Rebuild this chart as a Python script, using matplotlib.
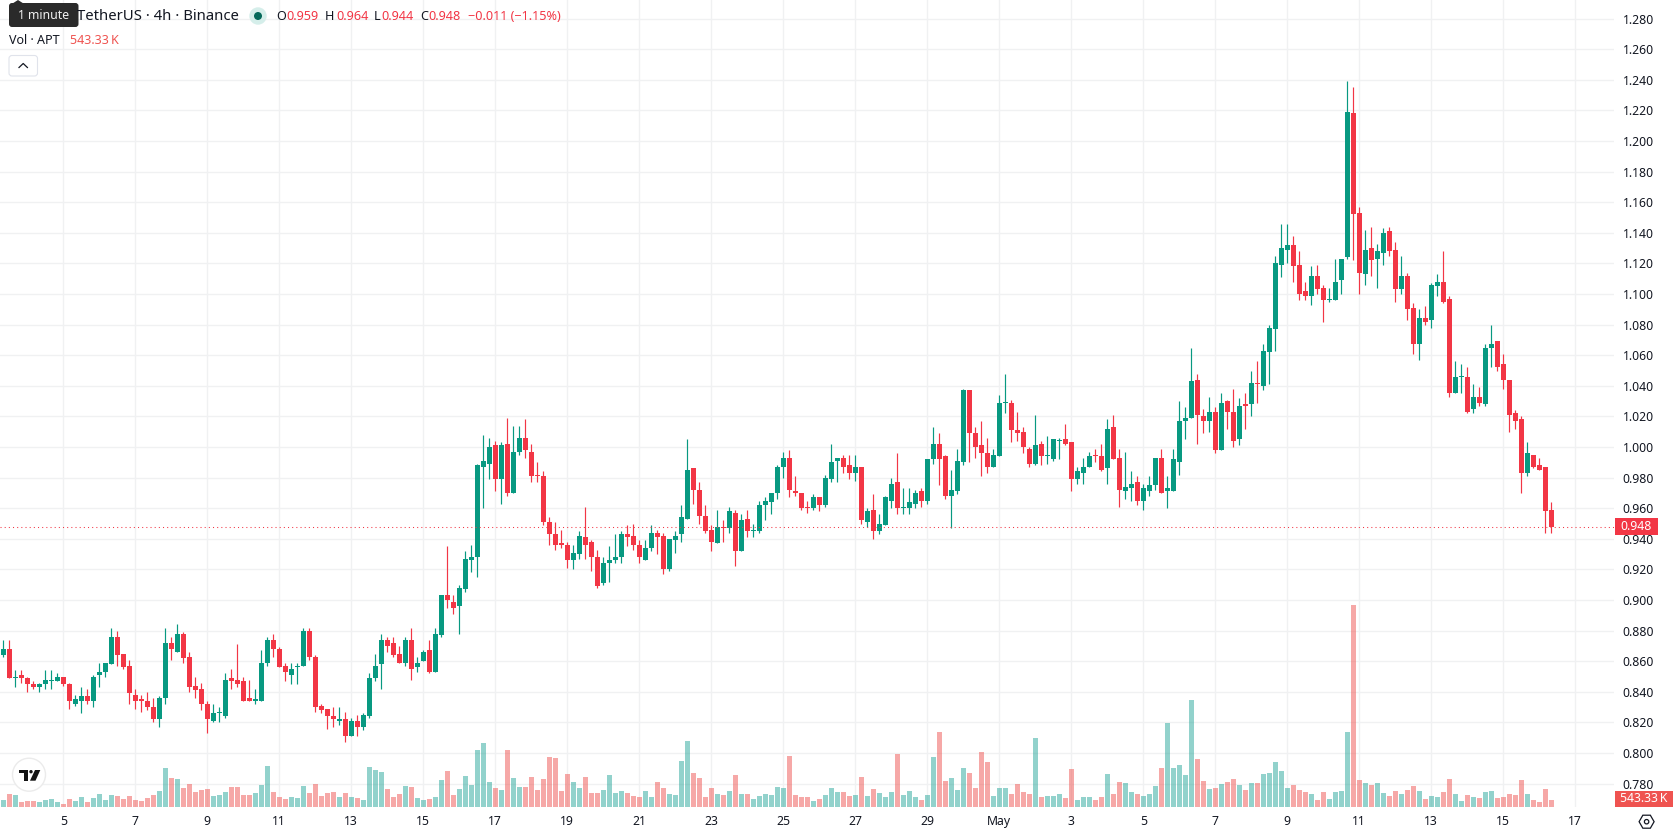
import numpy as np
import matplotlib
matplotlib.use("Agg")
import matplotlib.pyplot as plt
from matplotlib.patches import Circle, FancyBboxPatch, Polygon, Rectangle, RegularPolygon

plt.rcParams["font.family"] = ["Noto Sans", "DejaVu Sans"]

# 4h APT/USDT candles, quoted in exchange ticks of 0.001 USDT
PRICE_TICK = 0.001

opens = [
    864, 868, 849, 851, 849, 845, 843, 845, 847, 847,
    850, 845, 832, 834, 837, 834, 851, 853, 858, 876,
    865, 857, 838, 835, 834, 830, 822, 836, 872, 866,
    878, 863, 844, 842, 832, 821, 826, 824, 849, 848,
    847, 836, 834, 834, 859, 874, 868, 857, 851, 856,
    857, 880, 863, 831, 829, 824, 821, 822, 811, 821,
    817, 824, 849, 858, 874, 872, 865, 859, 874, 856,
    860, 867, 853, 877, 903, 899, 896, 907, 926, 928,
    987, 989, 1001, 979, 1002, 970, 997, 1006, 997, 982,
    981, 951, 943, 937, 936, 926, 930, 941, 938, 928,
    911, 924, 926, 928, 943, 942, 936, 926, 934, 944,
    942, 920, 939, 943, 953, 986, 972, 955, 946, 937,
    948, 947, 957, 932, 953, 945, 945, 962, 964, 970,
    987, 993, 971, 970, 961, 960, 967, 962, 979, 991,
    993, 988, 983, 987, 951, 959, 945, 949, 965, 977,
    960, 960, 963, 971, 965, 992, 1002, 994, 968, 971,
    990, 1037, 1009, 1001, 996, 987, 994, 1029, 1029, 1011,
    1010, 999, 989, 1002, 994, 992, 1004, 1005, 1003, 979,
    983, 987, 995, 994, 986, 1013, 993, 971, 973, 977,
    965, 971, 975, 993, 971, 971, 990, 1017, 1019, 1044,
    1020, 1017, 1023, 998, 1030, 1023, 1005, 1028, 1028, 1042,
    1040, 1062, 1077, 1119, 1129, 1132, 1119, 1102, 1099, 1112,
    1104, 1096, 1096, 1109, 1124, 1218, 1153, 1113, 1130, 1123,
    1127, 1141, 1129, 1103, 1112, 1091, 1067, 1084, 1083, 1105,
    1108, 1097, 1035, 1046, 1046, 1025, 1033, 1028, 1065, 1069,
    1054, 1044, 1022, 1018, 983, 995, 988, 987, 959,
]

highs = [
    874, 874, 854, 854, 850, 847, 846, 854, 854, 852,
    850, 846, 838, 843, 842, 851, 859, 859, 882, 880,
    865, 861, 842, 838, 840, 836, 837, 882, 876, 884,
    879, 866, 850, 846, 834, 832, 830, 852, 855, 871,
    850, 848, 842, 867, 876, 878, 869, 859, 859, 859,
    882, 882, 864, 832, 829, 830, 830, 827, 823, 825,
    826, 852, 865, 878, 876, 876, 870, 876, 882, 863,
    867, 874, 882, 903, 935, 903, 910, 932, 936, 989,
    1008, 1006, 1004, 1003, 1019, 1014, 1014, 1018, 1002, 990,
    984, 954, 951, 946, 938, 936, 945, 961, 939, 933,
    928, 935, 943, 945, 949, 950, 939, 939, 949, 946,
    944, 940, 945, 962, 1005, 986, 977, 962, 949, 959,
    952, 961, 959, 956, 959, 950, 965, 967, 970, 988,
    997, 998, 981, 970, 965, 969, 967, 982, 1002, 993,
    995, 995, 995, 987, 960, 969, 956, 968, 980, 996,
    973, 973, 972, 973, 992, 1013, 1009, 995, 985, 999,
    1038, 1037, 1013, 1017, 1006, 999, 1034, 1048, 1031, 1023,
    1013, 1000, 1021, 1004, 1007, 1005, 1006, 1015, 1003, 987,
    993, 997, 999, 1002, 1018, 1021, 999, 997, 984, 981,
    976, 981, 993, 999, 981, 999, 1030, 1026, 1065, 1048,
    1025, 1033, 1026, 1035, 1031, 1038, 1032, 1035, 1050, 1056,
    1067, 1080, 1125, 1146, 1146, 1138, 1128, 1108, 1118, 1119,
    1106, 1104, 1123, 1123, 1239, 1235, 1157, 1142, 1144, 1133,
    1143, 1144, 1134, 1125, 1114, 1094, 1090, 1092, 1107, 1113,
    1128, 1099, 1056, 1054, 1052, 1041, 1039, 1067, 1080, 1069,
    1061, 1044, 1024, 1020, 1003, 995, 993, 987, 964,
]

lows = [
    863, 849, 843, 846, 840, 842, 840, 842, 842, 847,
    844, 829, 831, 826, 832, 830, 843, 850, 858, 857,
    855, 832, 829, 827, 828, 820, 817, 832, 861, 866,
    859, 840, 836, 828, 813, 820, 820, 823, 842, 843,
    834, 834, 832, 834, 857, 863, 856, 847, 845, 845,
    857, 861, 827, 826, 816, 817, 818, 807, 811, 811,
    815, 823, 847, 842, 866, 863, 859, 857, 848, 853,
    860, 852, 853, 876, 895, 891, 878, 905, 918, 915,
    960, 979, 971, 963, 968, 970, 995, 993, 977, 977,
    949, 936, 933, 934, 921, 920, 927, 927, 919, 908,
    910, 912, 924, 924, 935, 933, 924, 926, 932, 930,
    917, 919, 931, 938, 953, 963, 950, 944, 932, 937,
    938, 944, 922, 932, 941, 941, 944, 952, 956, 966,
    980, 967, 968, 959, 957, 959, 958, 961, 977, 977,
    983, 979, 978, 950, 948, 940, 943, 949, 960, 956,
    956, 956, 960, 961, 963, 989, 975, 966, 947, 969,
    988, 990, 993, 981, 983, 987, 994, 1022, 1003, 1004,
    996, 987, 988, 988, 989, 991, 992, 1001, 971, 976,
    976, 987, 990, 984, 976, 992, 961, 966, 965, 962,
    959, 968, 972, 970, 960, 971, 982, 1005, 1019, 1002,
    1009, 1010, 996, 998, 1012, 1000, 1001, 1012, 1020, 1029,
    1037, 1041, 1063, 1111, 1120, 1108, 1096, 1096, 1093, 1100,
    1082, 1095, 1096, 1100, 1123, 1122, 1100, 1106, 1112, 1104,
    1119, 1125, 1095, 1100, 1083, 1061, 1057, 1080, 1078, 1099,
    1094, 1033, 1035, 1035, 1022, 1022, 1027, 1027, 1052, 1050,
    1038, 1010, 1012, 970, 981, 986, 985, 944, 944,
]

closes = [
    868, 849, 850, 849, 845, 843, 845, 848, 847, 850,
    845, 834, 835, 837, 834, 850, 853, 859, 876, 864,
    856, 839, 834, 834, 830, 822, 836, 872, 868, 878,
    862, 843, 841, 832, 822, 826, 826, 848, 847, 845,
    834, 834, 835, 859, 874, 868, 856, 853, 855, 857,
    880, 863, 830, 828, 824, 822, 822, 811, 821, 817,
    825, 849, 857, 874, 870, 864, 859, 874, 855, 859,
    866, 853, 878, 903, 900, 895, 908, 927, 928, 988,
    991, 1000, 979, 1001, 970, 997, 1006, 998, 981, 981,
    951, 943, 936, 936, 926, 931, 942, 936, 928, 909,
    924, 926, 928, 943, 941, 936, 928, 934, 944, 941,
    920, 940, 942, 954, 985, 972, 955, 945, 938, 948,
    947, 958, 932, 952, 945, 946, 962, 965, 970, 987,
    993, 972, 970, 960, 960, 967, 962, 980, 990, 993,
    987, 983, 987, 952, 958, 945, 950, 967, 976, 960,
    960, 964, 970, 965, 992, 1002, 992, 968, 972, 991,
    1037, 1009, 1000, 996, 987, 995, 1029, 1029, 1011, 1009,
    1000, 989, 1001, 994, 994, 1005, 1004, 1002, 979, 984,
    987, 994, 994, 985, 1012, 992, 972, 974, 976, 965,
    973, 975, 993, 970, 973, 992, 1017, 1019, 1043, 1021,
    1017, 1023, 998, 1029, 1023, 1004, 1027, 1027, 1042, 1041,
    1063, 1078, 1120, 1130, 1132, 1118, 1100, 1099, 1112, 1103,
    1096, 1097, 1108, 1123, 1219, 1152, 1114, 1129, 1122, 1128,
    1140, 1128, 1103, 1112, 1090, 1067, 1084, 1082, 1106, 1108,
    1095, 1035, 1046, 1046, 1023, 1033, 1029, 1065, 1067, 1052,
    1044, 1021, 1017, 983, 996, 987, 985, 958, 948,
]

# Traded volume per candle, in thousands of APT
volumes = [
    546, 1014, 936, 390, 468, 468, 390, 546, 624, 390,
    234, 624, 468, 780, 390, 702, 1014, 546, 936, 858,
    624, 858, 546, 468, 702, 936, 1248, 3042, 2262, 2184,
    1482, 1794, 1170, 1326, 1404, 858, 936, 1170, 1560, 1560,
    936, 936, 1092, 1716, 3198, 1170, 780, 624, 780, 702,
    1638, 1092, 1794, 858, 1092, 1170, 780, 1092, 780, 702,
    546, 3120, 2886, 2730, 1404, 780, 1014, 1638, 1560, 702,
    546, 624, 780, 2106, 2808, 936, 1404, 2418, 1716, 4446,
    4992, 1950, 1482, 1326, 4446, 2262, 1560, 1560, 2340, 1326,
    2184, 3900, 3822, 1248, 2574, 1950, 1482, 2340, 1092, 1092,
    1326, 2496, 1092, 1248, 1092, 858, 780, 1248, 780, 1950,
    1482, 1014, 936, 3588, 5148, 2652, 2262, 780, 1482, 1014,
    936, 1248, 2496, 1014, 1014, 624, 858, 1014, 936, 1560,
    1482, 3978, 936, 780, 780, 468, 624, 936, 1482, 1170,
    1170, 858, 936, 2340, 858, 1404, 1092, 780, 1170, 4134,
    936, 1248, 780, 546, 936, 3900, 5850, 2028, 2262, 1326,
    3042, 2652, 1482, 4290, 3510, 858, 1482, 1482, 1014, 1794,
    1170, 1014, 5382, 780, 858, 858, 1014, 702, 2964, 546,
    780, 780, 546, 780, 2574, 1014, 1950, 1872, 1170, 1014,
    858, 1014, 1638, 3042, 6552, 3042, 3276, 2496, 8346, 3744,
    2028, 1404, 1482, 1794, 1950, 2184, 1716, 1326, 1872, 1872,
    2574, 2652, 3510, 2808, 1482, 1716, 1326, 1170, 1014, 546,
    1170, 624, 1170, 1248, 5850, 15756, 2106, 1872, 1716, 1872,
    1092, 858, 1248, 1014, 1326, 1638, 1248, 624, 858, 780,
    1170, 2184, 1014, 468, 936, 780, 702, 1170, 1248, 702,
    780, 1014, 936, 2106, 1014, 546, 390, 1404, 543.33,
]

price_ticks = [0.78, 0.80, 0.82, 0.84, 0.86, 0.88, 0.90, 0.92, 0.94, 0.96, 0.98,
               1.00, 1.02, 1.04, 1.06, 1.08, 1.10, 1.12, 1.14, 1.16, 1.18, 1.20,
               1.22, 1.24, 1.26, 1.28]
date_labels = ["5", "7", "9", "11", "13", "15", "17", "19", "21", "23", "25", "27", "29",
               "May", "3", "5", "7", "9", "11", "13", "15", "17"]
first_date_index = 10
candles_per_label = 12

last_price = 0.948
last_volume_label = "543.33\u2009K"

GREEN = "#089981"
RED = "#F23645"
VOL_GREEN = "#26a69a"
VOL_RED = "#ef5350"
GRID = "#f0f1f2"
TEXT = "#131722"

W, H = 1678, 835
PANE_W, PANE_H = 1614, 807

fig = plt.figure(figsize=(W / 100, H / 100), dpi=100, facecolor="white")
ax = fig.add_axes([0, (H - PANE_H) / H, PANE_W / W, PANE_H / H])

# Volume sits on its own scale along the bottom of the pane
ax_vol = ax.twinx()
ax_vol.patch.set_visible(False)
ax_vol.set_ylim(0, PANE_H * 78)
ax_vol.set_yticks([])
for s in ax_vol.spines.values():
    s.set_visible(False)

o = np.array(opens) * PRICE_TICK
h = np.array(highs) * PRICE_TICK
l = np.array(lows) * PRICE_TICK
c = np.array(closes) * PRICE_TICK
idx = np.arange(len(o))
is_up = c >= o

# Each candle slot is six pixels wide; the body fills five of them
ax.set_xlim(-0.555, 268.45)
ax.set_ylim(0.76471, 1.29216)

date_pos = [first_date_index + candles_per_label * k for k in range(len(date_labels))]
ax.set_xticks(date_pos)
ax.set_xticklabels(date_labels)
ax.yaxis.tick_right()
ax.set_yticks(price_ticks)
ax.set_yticklabels([f"{t:.3f}" for t in price_ticks])
ax.grid(True, color=GRID, linewidth=1.0)
ax.set_axisbelow(True)
for s in ax.spines.values():
    s.set_visible(False)
ax.tick_params(axis="y", length=0, left=False, labelleft=False, right=False, labelright=True,
               pad=6.2, labelsize=8.8, labelcolor=TEXT)
ax.tick_params(axis="x", length=0, pad=6.0, labelsize=8.8, labelcolor=TEXT)
for lbl in ax.get_xticklabels():
    if lbl.get_text() == "May":
        lbl.set_fontweight("bold")

candle_colors = np.where(is_up, GREEN, RED)
ax.vlines(idx, l, h, colors=candle_colors, linewidth=0.85, zorder=3)
body_low = np.minimum(o, c)
body_height = np.maximum(np.abs(c - o), 0.0007)
ax.bar(idx, body_height, bottom=body_low, width=5 / 6, color=candle_colors, linewidth=0, zorder=4)

ax.axhline(last_price, color=RED, linewidth=0.75, linestyle=(0, (1, 3)), zorder=5)

vol_colors = np.where(is_up, VOL_GREEN, VOL_RED)
ax_vol.bar(idx, volumes, width=5 / 6, color=vol_colors, alpha=0.5, linewidth=0)

# Header, price tags and badges are laid out in figure pixels
ui = fig.add_axes([0, 0, 1, 1], zorder=10)
ui.set_xlim(0, W)
ui.set_ylim(H, 0)
ui.axis("off")

ui.text(77, 16, "TetherUS \u00b7 4h \u00b7 Binance", fontsize=10.7, color=TEXT, va="center", ha="left")

ui.add_patch(Circle((258, 16), 8.7, facecolor="#d5eeea", edgecolor="none"))
ui.add_patch(Circle((258, 16), 4.0, facecolor="#05695a", edgecolor="none"))

header_items = [
    (276, "O", TEXT), (286, "0.959", RED),
    (325, "H", TEXT), (336, "0.964", RED),
    (374, "L", TEXT), (381.5, "0.944", RED),
    (420, "C", TEXT), (428.5, "0.948", RED),
    (468, "\u22120.011 (\u22121.15%)", RED),
]
for x, s, col in header_items:
    ui.text(x, 16, s, fontsize=9.1, color=col, va="center", ha="left")

ui.text(9, 40.5, "Vol \u00b7 APT", fontsize=9.0, color=TEXT, va="center", ha="left")
ui.text(70, 40.5, last_volume_label, fontsize=9.0, color=VOL_RED, va="center", ha="left")

ui.add_patch(FancyBboxPatch((9, 55.5), 28.5, 20.5, boxstyle="round,pad=0,rounding_size=3",
                            facecolor="white", edgecolor="#e0e3eb", linewidth=0.8))
ui.plot([19, 23.2, 27.4], [67.5, 63.5, 67.5], color=TEXT, linewidth=0.9)

# Hover tooltip over the start of the title
ui.add_patch(Polygon([(12.5, 3.5), (18, 0), (23.5, 3.5)], facecolor="#2a2a2a", edgecolor="none"))
ui.add_patch(FancyBboxPatch((9, 3), 69.5, 24, boxstyle="round,pad=0,rounding_size=3",
                            facecolor="#2a2a2a", edgecolor="none"))
ui.text(43.5, 15.5, "1 minute", fontsize=8.8, color="#f0f0f0", va="center", ha="center")

# Last-price and last-volume tags on the price scale
ui.add_patch(Rectangle((1615, 518), 43, 17, facecolor=RED, edgecolor="none"))
ui.text(1636.5, 526.3, f"{last_price:.3f}", fontsize=8.8, color="white", va="center", ha="center")
ui.add_patch(Rectangle((1615, 791), 57.5, 16, facecolor=VOL_RED, edgecolor="none"))
ui.text(1643.7, 799, last_volume_label, fontsize=8.8, color="white", va="center", ha="center")

# Round logo badge, lower left
ui.add_patch(Circle((29, 774.7), 16.5, facecolor="white", edgecolor="#ebebeb", linewidth=1.0))
ui.add_patch(Polygon([(19, 770), (28.3, 770), (28.3, 780.7), (23.7, 780.7), (23.7, 773.3), (19, 773.3)],
                     facecolor="#131313", edgecolor="none"))
ui.add_patch(Circle((31, 771.7), 1.7, facecolor="#131313", edgecolor="none"))
ui.add_patch(Polygon([(35, 770), (40.3, 770), (35.5, 780.7), (30, 780.7)], facecolor="#131313", edgecolor="none"))

# Settings hexagon under the price scale
ui.add_patch(RegularPolygon((1646.6, 821.7), 6, radius=7.5, orientation=np.pi / 6,
                            facecolor="none", edgecolor=TEXT, linewidth=0.9))
ui.add_patch(Circle((1646.6, 821.7), 2.2, facecolor="none", edgecolor=TEXT, linewidth=0.9))

fig.savefig("out.png", dpi=100, facecolor="white")
